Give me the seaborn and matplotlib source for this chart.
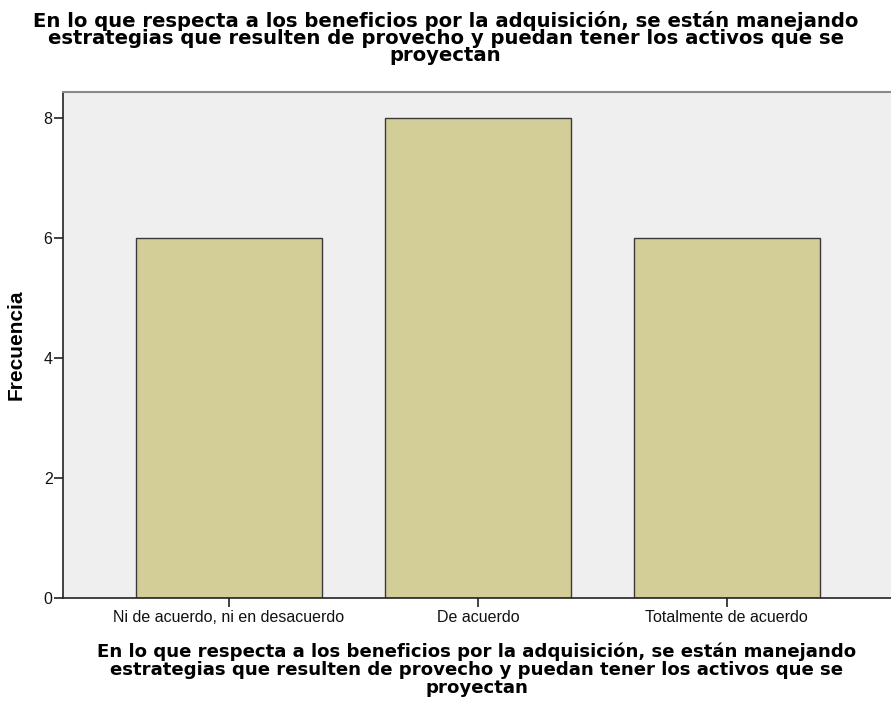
import matplotlib
matplotlib.use("Agg")
import matplotlib.pyplot as plt
import seaborn as sns
import pandas as pd

# datos del gráfico
categorias = ["Ni de acuerdo, ni en desacuerdo", "De acuerdo", "Totalmente de acuerdo"]
frecuencias = [6, 8, 6]
titulo = ("En lo que respecta a los beneficios por la adquisición, se están manejando\n"
          "estrategias que resulten de provecho y puedan tener los activos que se\n"
          "proyectan")
y_ticks = [0, 2, 4, 6, 8]

sns.set_theme(style="white")
plt.rcParams['font.family'] = ['Liberation Sans', 'DejaVu Sans']

df = pd.DataFrame({'categoria': categorias, 'frecuencia': frecuencias})

fig = plt.figure(figsize=(8.91, 7.07), dpi=100)
ax = fig.add_axes([0.0707, 0.1542, 0.9293, 0.7157])
ax.set_facecolor('#efefef')

sns.barplot(data=df, x='categoria', y='frecuencia', color='#d3ce97', saturation=1,
            width=0.747, edgecolor='#3a3a3a', linewidth=1.0, ax=ax)

ax.set_xlim(-0.667, 2.66)
ax.set_ylim(0, 8.433)
ax.set_yticks(y_ticks)

ax.tick_params(axis='both', direction='out', length=6.5, width=1.2, color='#222222',
               labelsize=11.5, labelcolor='#111111', pad=1, left=True, bottom=True)
ax.tick_params(axis='x', pad=2)

for side in ['left', 'bottom']:
    ax.spines[side].set_color('#222222')
    ax.spines[side].set_linewidth(1.2)
ax.spines['top'].set_color('#8a8a8a')
ax.spines['top'].set_linewidth(1.5)
ax.spines['right'].set_visible(False)

ax.set_ylabel("Frecuencia", fontsize=15, fontweight='bold', color='black', labelpad=13)
ax.set_xlabel(titulo, fontsize=13.1, fontweight='bold', color='black', labelpad=13,
              family=['DejaVu Sans'], linespacing=0.98)

fig.text(0.5, 0.985, titulo, ha='center', va='top', fontsize=14.1, fontweight='bold',
         linespacing=0.87, color='black', family=['DejaVu Sans'])

fig.savefig('out.png', dpi=100)
